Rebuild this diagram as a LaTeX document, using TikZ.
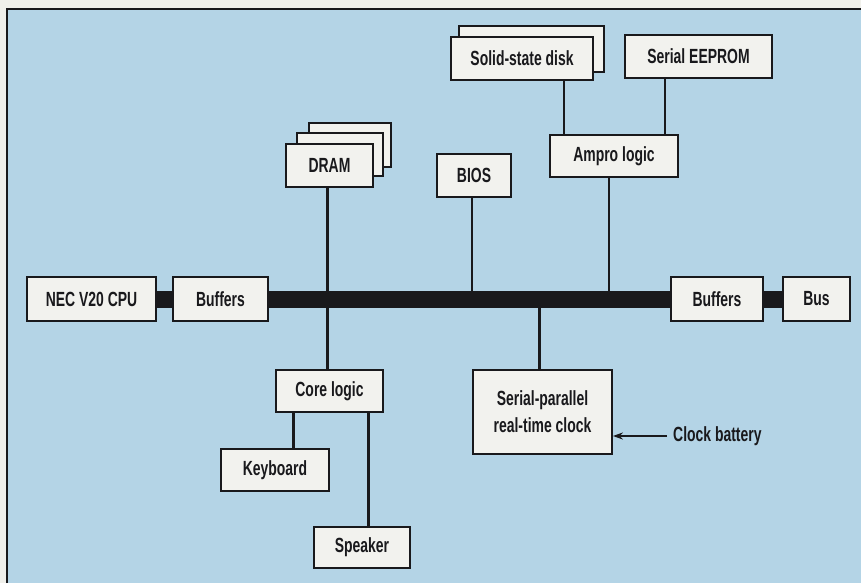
\documentclass[tikz,border=0pt]{standalone}
\usepackage{fontspec}
\setmainfont{Liberation Sans}[FakeStretch=0.68]
\usetikzlibrary{arrows.meta}
\definecolor{bgblue}{RGB}{180,212,230}
\definecolor{boxfill}{RGB}{242,242,238}
\definecolor{paper}{RGB}{240,240,235}
\definecolor{ink}{RGB}{25,25,28}
\begin{document}
\begin{tikzpicture}[x=1pt,y=-1pt,
  box/.style={draw=ink,line width=1.8pt,fill=boxfill,text=ink,
    font=\bfseries\fontsize{20.5}{27}\selectfont,inner sep=0pt,align=center},
  backbox/.style={draw=ink,line width=1.8pt,fill=boxfill},
  wire/.style={draw=ink,line width=2.1pt},
  bus/.style={draw=ink,line width=17pt},
  lbl/.style={text=ink,font=\bfseries\fontsize{20.5}{27}\selectfont,inner sep=0pt}]
\useasboundingbox (0,0) rectangle (861,583);
\fill[paper] (0,0) rectangle (861,583);
\fill[bgblue] (7,9) rectangle (861,583);
\draw[ink,line width=1.4pt] (7,583) -- (7,9) -- (861,9);

\coordinate (bustop) at (0,291);
\coordinate (busbot) at (0,306);

% bus row
\node[box,minimum width=129pt,minimum height=44pt] (cpu) at (91.5,299) {NEC V20 CPU};
\node[box,minimum width=95pt,minimum height=44pt] (buf1) at (220.5,299) {Buffers};
\node[box,minimum width=92pt,minimum height=44pt] (buf2) at (717,299) {Buffers};
\node[box,minimum width=67pt,minimum height=44pt] (busbox) at (816.5,299) {Bus};
\draw[bus] (cpu.east) -- (buf1.west);
\draw[bus] (buf1.east) -- (buf2.west);
\draw[bus] (buf2.east) -- (busbox.west);

% DRAM stack
\draw[backbox] (309,123) rectangle (391,167);
\draw[backbox] (297,133) rectangle (383,176);
\node[box,minimum width=87pt,minimum height=43pt] (dram) at (329.5,165.5) {DRAM};

% BIOS
\node[box,minimum width=74pt,minimum height=43pt] (bios) at (474,175.5) {BIOS};

% Solid-state disk stack
\draw[backbox] (459,26) rectangle (604,72);
\node[box,minimum width=142pt,minimum height=43pt] (ssd) at (522,58.5) {Solid-state disk};

% Serial EEPROM
\node[box,minimum width=147pt,minimum height=43pt] (eeprom) at (698.5,56.5) {Serial EEPROM};

% Ampro logic
\node[box,minimum width=128pt,minimum height=42pt] (ampro) at (614,156) {Ampro logic};

% lower part
\node[box,minimum width=107pt,minimum height=42pt] (core) at (329.5,391) {Core logic};
\node[box,minimum width=108pt,minimum height=42pt] (kbd) at (275,470) {Keyboard};
\node[box,minimum width=96pt,minimum height=41pt] (spk) at (362,547.5) {Speaker};
\node[box,minimum width=139pt,minimum height=84pt] (rtc) at (542.5,412) {Serial-parallel\\real-time clock};
\node[lbl,anchor=west,inner xsep=6pt] (cb) at (667,436) {Clock battery};

% connectors
\draw[wire] ([xshift=-2pt]dram.south) -- ([xshift=-2pt]core.north);
\draw[wire] ([xshift=-2pt]bios.south) -- ([xshift=-2pt]bios.south |- bustop);
\draw[wire] ([xshift=-5pt]ampro.south) -- ([xshift=-5pt]ampro.south |- bustop);
\draw[wire] ([xshift=-50pt]ampro.north) -- ([xshift=-50pt]ampro.north |- ssd.south);
\draw[wire] ([xshift=51pt]ampro.north) -- ([xshift=51pt]ampro.north |- eeprom.south);
\draw[wire] ([xshift=-3pt]rtc.north) -- ([xshift=-3pt]rtc.north |- busbot);
\draw[wire] ([xshift=-36pt]core.south) -- ([xshift=-36pt]core.south |- kbd.north);
\draw[wire] ([xshift=39pt]core.south) -- ([xshift=39pt]core.south |- spk.north);
\draw[wire,line width=1.8pt,-{Stealth[length=10pt,width=7pt]}] (cb.west) -- (cb.west -| rtc.east);
\end{tikzpicture}
\end{document}
